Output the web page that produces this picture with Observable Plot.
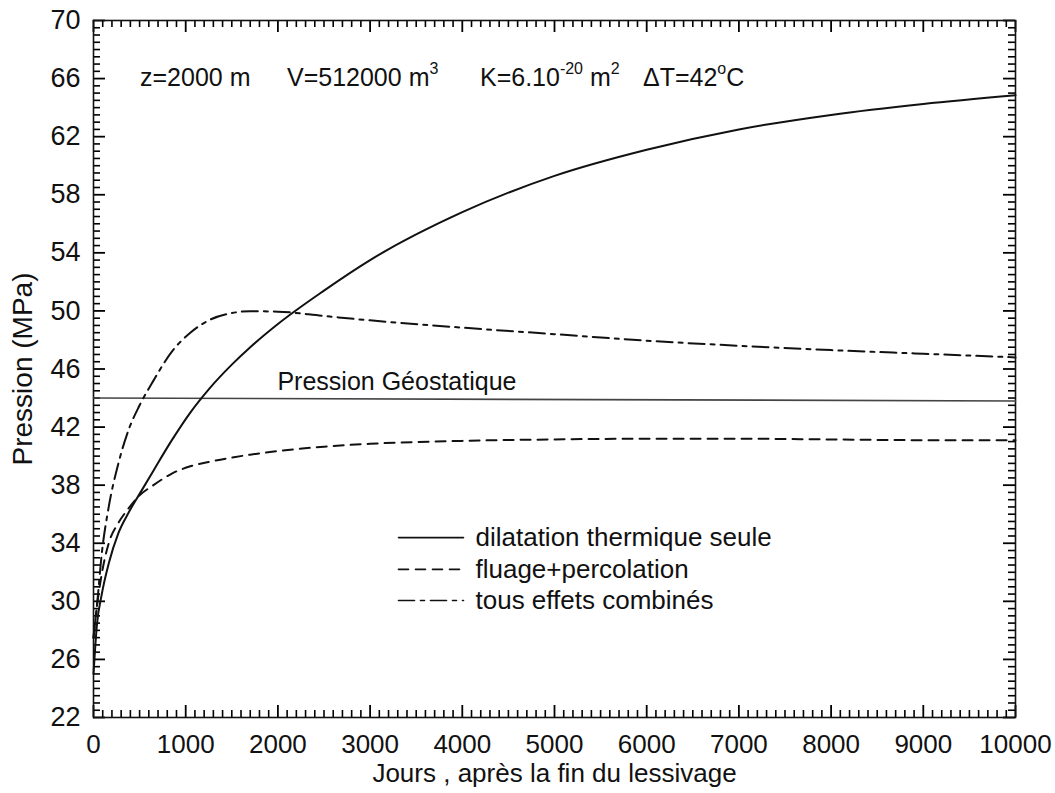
<!DOCTYPE html>
<html>
<head>
<meta charset="utf-8">
<script src="https://cdn.jsdelivr.net/npm/d3@7"></script>
<script src="https://cdn.jsdelivr.net/npm/@observablehq/plot@0.6"></script>
<style>
  html, body { margin: 0; padding: 0; background: #fff; overflow: hidden; }
  #chart svg { display: block; font-family: "Liberation Sans", Arial, Helvetica, sans-serif; }
</style>
</head>
<body>
<div id="chart"></div>
<script>
// ---- data ----
const days = [0, 36, 90, 165, 270, 380, 500, 650, 850, 1050, 1250, 1500, 1700, 2000, 2500, 3000, 4000, 5000, 6000, 7000, 8000, 9000, 10000];
const dilatation = [25.0, 28.3, 30.5, 32.6, 34.7, 36.1, 37.4, 39.0, 41.1, 43.0, 44.6, 46.3, 47.5, 49.1, 51.4, 53.5, 56.8, 59.3, 61.1, 62.5, 63.5, 64.25, 64.85];
const fluage = [27.5, 29.6, 31.9, 34.0, 35.4, 36.4, 37.3, 38.0, 38.8, 39.3, 39.6, 39.9, 40.1, 40.35, 40.65, 40.85, 41.05, 41.15, 41.2, 41.2, 41.15, 41.1, 41.1];
const combines = [27.5, 29.6, 33.3, 36.5, 39.5, 41.8, 43.5, 45.2, 47.2, 48.5, 49.35, 49.85, 49.98, 49.95, 49.65, 49.35, 48.85, 48.4, 47.95, 47.6, 47.3, 47.05, 46.8];
const geoDays = [0, 10000];
const geoP = [44.0, 43.8];

const seriesNames = ["dilatation thermique seule", "fluage+percolation", "tous effets combinés"];
const xTicks = [0, 1000, 2000, 3000, 4000, 5000, 6000, 7000, 8000, 9000, 10000];
const yTicks = [22, 26, 30, 34, 38, 42, 46, 50, 54, 58, 62, 66, 70];
const xMinor = d3.range(0, 10001, 100).filter(v => v % 1000 !== 0);
const yMinor = d3.range(22, 70.01, 0.5).filter(v => !yTicks.includes(v));

// annotation anchors (data space)
const geoLabel = {text: "Pression Géostatique", day: 1995, p: 44.55};
const legendDays = [3308, 4013];
const legendP = [34.39, 32.2, 30.06];
const legendTextDay = 4143;
const headerP = 65.45;
const headerDays = [510, 2104, 4197, 5965];

// ---- build tables ----
const rows = [];
days.forEach((d, i) => {
  rows.push({day: d, p: dilatation[i], s: seriesNames[0]});
  rows.push({day: d, p: fluage[i], s: seriesNames[1]});
  rows.push({day: d, p: combines[i], s: seriesNames[2]});
});
const byS = s => rows.filter(r => r.s === s);
const geo = geoDays.map((d, i) => ({day: d, p: geoP[i]}));
const dashes = [null, "10,7", "16,6,4,6"];

const W = 1055, H = 793;
const mL = 93, mR = 40, mT = 20, mB = 76;
const X0 = 0, X1 = 10000, Y0 = 22, Y1 = 70;
// tick lengths, converted from pixels to data units
const pxX = (X1 - X0) / (W - mL - mR), pxY = (Y1 - Y0) / (H - mT - mB);

const legendRows = [];
seriesNames.forEach((s, i) => {
  legendDays.forEach(d => legendRows.push({day: d, p: legendP[i], s, i}));
});

const font = "'Liberation Sans', Arial, Helvetica, sans-serif";
const ns = "http://www.w3.org/2000/svg";

function header(index, scales) {
  const g = document.createElementNS(ns, "g");
  const y = scales.y(headerP);
  const segs = [
    [["z=2000 m", false]],
    [["V=512000 m", false], ["3", true]],
    [["K=6.10", false], ["-20", true], ["\u00a0m", false], ["2", true]],
    [["\u0394T=42", false], ["o", true], ["C", false]]
  ];
  segs.forEach((seg, k) => {
    const t = document.createElementNS(ns, "text");
    t.setAttribute("x", scales.x(headerDays[k]));
    t.setAttribute("y", y);
    t.setAttribute("font-size", 25);
    t.setAttribute("font-family", font);
    t.setAttribute("text-anchor", "start");
    t.setAttribute("fill", "#111");
    let raised = false;
    seg.forEach(([str, sup]) => {
      const ts = document.createElementNS(ns, "tspan");
      ts.textContent = str;
      if (sup) { ts.setAttribute("font-size", 16); ts.setAttribute("dy", -12); raised = true; }
      else if (raised) { ts.setAttribute("dy", 12); raised = false; }
      t.appendChild(ts);
    });
    g.appendChild(t);
  });
  return g;
}

const tickMarks = (vals, len, w) => [
  Plot.ruleX(vals, {x: d => d, y1: Y0, y2: Y0 + len * pxY, stroke: "#000", strokeWidth: w}),
  Plot.ruleX(vals, {x: d => d, y1: Y1, y2: Y1 - len * pxY, stroke: "#000", strokeWidth: w})
];
const tickMarksY = (vals, len, w) => [
  Plot.ruleY(vals, {y: d => d, x1: X0, x2: X0 + len * pxX, stroke: "#000", strokeWidth: w}),
  Plot.ruleY(vals, {y: d => d, x1: X1, x2: X1 - len * pxX, stroke: "#000", strokeWidth: w})
];

const chart = Plot.plot({
  width: W, height: H,
  marginLeft: mL, marginRight: mR, marginTop: mT, marginBottom: mB,
  style: {fontFamily: font, background: "#fff", color: "#111"},
  x: {domain: [X0, X1], ticks: xTicks, label: null},
  y: {domain: [Y0, Y1], ticks: yTicks, label: null},
  marks: [
    Plot.axisX({ticks: xTicks, tickSize: 0, tickPadding: 17, fontSize: 26, tickFormat: d => String(d), label: null}),
    Plot.axisY({ticks: yTicks, tickSize: 0, tickPadding: 13, fontSize: 27, tickFormat: d => String(d), label: null}),
    ...tickMarks(xMinor, 7, 1.6),
    ...tickMarks(xTicks, 12, 1.8),
    ...tickMarksY(yMinor, 7, 1.6),
    ...tickMarksY(yTicks, 12, 1.8),
    Plot.frame({stroke: "#111", strokeWidth: 1.6, fill: "none"}),
    // geostatic pressure line
    Plot.line(geo, {x: "day", y: "p", stroke: "#444", strokeWidth: 1.6}),
    Plot.text([geoLabel], {x: "day", y: "p", text: "text", textAnchor: "start", lineAnchor: "bottom", fontSize: 25, fill: "#111"}),
    // curves
    ...seriesNames.map((s, i) => Plot.line(byS(s), {x: "day", y: "p", stroke: "#111", strokeWidth: 2, strokeDasharray: dashes[i], curve: "monotone-x"})),
    // legend
    ...seriesNames.map((s, i) => Plot.line(legendRows.filter(r => r.i === i), {x: "day", y: "p", stroke: "#111", strokeWidth: 1.6, strokeDasharray: dashes[i]})),
    Plot.text(seriesNames, {x: () => legendTextDay, y: (d, i) => legendP[i], text: d => d, textAnchor: "start", fontSize: 26, fill: "#111"}),
    // header annotation
    header,
    // axis titles
    Plot.text(["Jours , après la fin du lessivage"], {frameAnchor: "bottom", dy: 64, fontSize: 26, fill: "#111"}),
    Plot.text(["Pression (MPa)"], {frameAnchor: "left", dx: -70, rotate: -90, textAnchor: "middle", fontSize: 28, fill: "#111"})
  ]
});
document.getElementById("chart").appendChild(chart);
</script>
</body>
</html>
